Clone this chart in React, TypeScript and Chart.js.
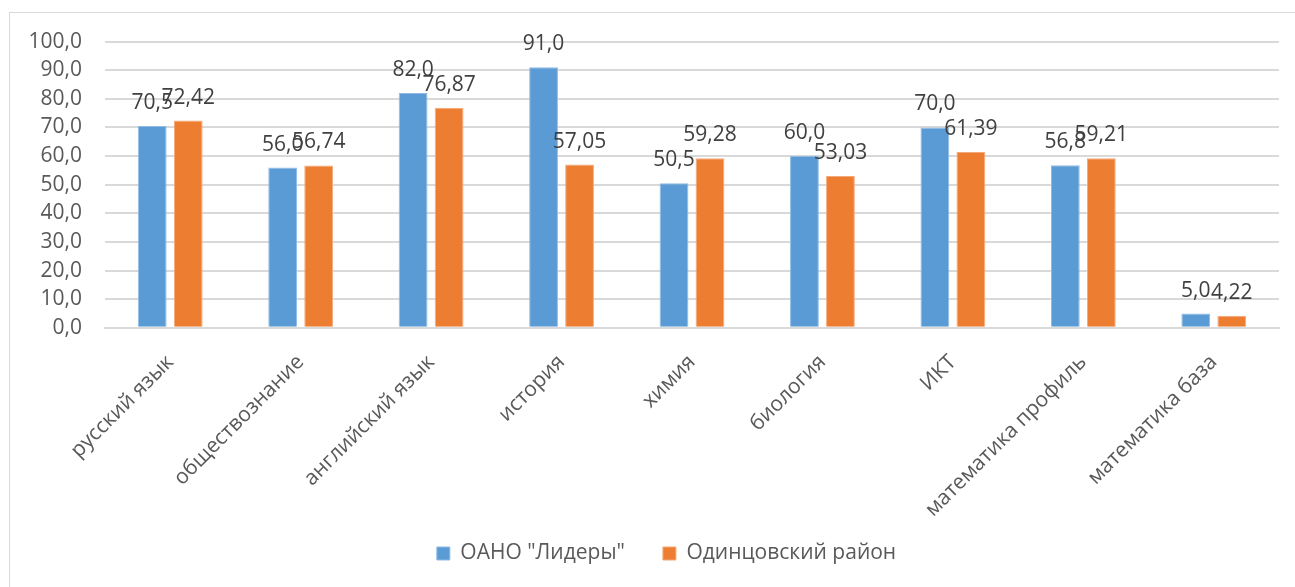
import React, { useEffect, useRef } from "react";
import { Chart, registerables } from "chart.js";

Chart.register(...registerables);

const categories = [
  "русский язык",
  "обществознание",
  "английский язык",
  "история",
  "химия",
  "биология",
  "ИКТ",
  "математика профиль",
  "математика база",
];
const schoolValues = [70.5, 56.0, 82.0, 91.0, 50.5, 60.0, 70.0, 56.8, 5.0];
const districtValues = [72.42, 56.74, 76.87, 57.05, 59.28, 53.03, 61.39, 59.21, 4.22];
const schoolLabels = ["70,5", "56,0", "82,0", "91,0", "50,5", "60,0", "70,0", "56,8", "5,0"];
const districtLabels = ["72,42", "56,74", "76,87", "57,05", "59,28", "53,03", "61,39", "59,21", "4,22"];
const seriesNames = ['ОАНО "Лидеры"', "Одинцовский район"];

const FONT = "'Open Sans', 'Noto Sans', sans-serif";
const TEXT = "#595959";
const LEGEND_SHIFT_Y = 31;
const LEGEND_SHIFT_X = 22;

const labelPlugin = {
  id: "valueLabels",
  afterLayout(chart: any) {
    if (chart.legend) {
      chart.legend.top -= LEGEND_SHIFT_Y;
      chart.legend.bottom -= LEGEND_SHIFT_Y;
      chart.legend.left += LEGEND_SHIFT_X;
      chart.legend.right += LEGEND_SHIFT_X;
    }
  },
  afterDatasetsDraw(chart: any) {
    const ctx = chart.ctx;
    const lists = [schoolLabels, districtLabels];
    ctx.save();
    ctx.font = `21px ${FONT}`;
    ctx.fillStyle = "#404040";
    ctx.textAlign = "center";
    ctx.textBaseline = "alphabetic";
    chart.data.datasets.forEach((ds: any, di: number) => {
      const meta = chart.getDatasetMeta(di);
      meta.data.forEach((bar: any, i: number) => {
        ctx.fillText(lists[di][i], bar.x, bar.y - 17);
      });
    });
    ctx.restore();
  },
};

export default function App() {
  const ref = useRef<HTMLCanvasElement>(null);
  useEffect(() => {
    document.documentElement.style.overflow = "hidden";
    document.body.style.overflow = "hidden";
    const chart = new Chart(ref.current!, {
      type: "bar",
      data: {
        labels: categories,
        datasets: [
          {
            label: seriesNames[0],
            data: schoolValues,
            backgroundColor: "#5B9BD5",
            borderColor: "#8fbbe4",
            borderWidth: 1,
            categoryPercentage: 0.552,
            barPercentage: 0.8,
          },
          {
            label: seriesNames[1],
            data: districtValues,
            backgroundColor: "#ED7D31",
            borderColor: "#f4a97a",
            borderWidth: 1,
            categoryPercentage: 0.552,
            barPercentage: 0.8,
          },
        ],
      },
      options: {
        animation: false,
        responsive: false,
        layout: { padding: { top: 5, right: 17, bottom: 0, left: 0 } },
        plugins: {
          legend: {
            position: "bottom",
            labels: {
              font: { family: FONT, size: 21 },
              color: TEXT,
              boxWidth: 13,
              boxHeight: 13,
              padding: 38,
            },
          },
          tooltip: { enabled: false },
        },
        scales: {
          x: {
            grid: { display: false },
            border: { color: "#d9d9d9", width: 2 },
            ticks: {
              font: { family: FONT, size: 21 },
              color: TEXT,
              maxRotation: 45,
              minRotation: 45,
              padding: 14,
            },
          },
          y: {
            min: 0,
            max: 100,
            grid: { color: "#d9d9d9", drawTicks: false, lineWidth: 2 },
            border: { display: false },
            afterFit: (scale: any) => {
              scale.width = 95;
            },
            ticks: {
              stepSize: 10,
              autoSkip: false,
              padding: 23,
              font: { family: FONT, size: 21 },
              color: TEXT,
              callback: (v: any) => Number(v).toFixed(1).replace(".", ","),
            },
          },
        },
      },
      plugins: [labelPlugin],
    });
    return () => chart.destroy();
  }, []);
  return (
    <div
      style={{
        position: "fixed",
        left: 9,
        top: 12,
        width: 1300,
        height: 650,
        border: "1px solid #d9d9d9",
        background: "#fff",
      }}
    >
      <canvas
        ref={ref}
        width={1286}
        height={599}
        style={{ display: "block", position: "absolute", left: 0, top: -7 }}
      />
    </div>
  );
}
